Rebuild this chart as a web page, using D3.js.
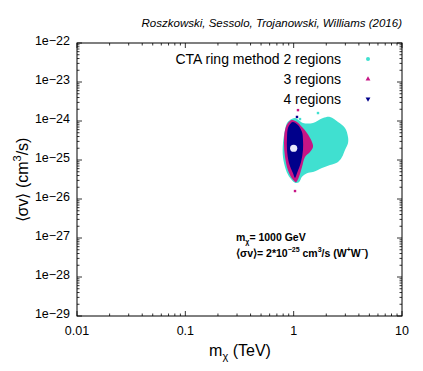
<!DOCTYPE html>
<html lang="en">
<head>
    <meta charset="UTF-8">
    <title>CTA ring method</title>
    <script src="https://cdnjs.cloudflare.com/ajax/libs/d3/7.8.5/d3.min.js"></script>
    <style>
        body { margin: 0; background: #fff; }
        text { font-family: "Liberation Sans", Arial, sans-serif; fill: #000; }
    </style>
</head>
<body>
<svg width="423" height="371"></svg>
<script>
    // axis ticks
    var xTicks = [0.01, 0.1, 1, 10];
    var xTickLabels = ["0.01", "0.1", "1", "10"];
    var yTicks = [1e-22, 1e-23, 1e-24, 1e-25, 1e-26, 1e-27, 1e-28, 1e-29];
    var yTickLabels = ["1e\u221222", "1e\u221223", "1e\u221224", "1e\u221225", "1e\u221226", "1e\u221227", "1e\u221228", "1e\u221229"];

    // legend
    var seriesNames = ["CTA ring method 2 regions", "3 regions", "4 regions"];

    // outlines of the point clouds, [m (TeV), <sigma v> (cm^3/s)]
    var cloud2 = [[0.925, 1.06e-24], [1.029, 1.19e-24], [1.219, 8.9e-25], [1.508, 8.9e-25], [1.866, 1.19e-24],
        [2.165, 1.27e-24], [2.567, 9.4e-25], [2.977, 6.6e-25], [3.174, 3.9e-25], [3.174, 2.73e-25],
        [2.977, 1.8e-25], [2.793, 1.19e-25], [2.567, 8.9e-26], [2.165, 7.4e-26], [1.826, 6.2e-26],
        [1.508, 4.9e-26], [1.327, 4.6e-26], [1.194, 3.7e-26], [1.120, 2.7e-26], [1.029, 2.6e-26],
        [0.925, 3.5e-26], [0.850, 5.5e-26], [0.797, 1.19e-25], [0.797, 2.73e-25], [0.832, 5.9e-25],
        [0.868, 8.9e-25]];
    var cloud3 = [[0.965, 1.06e-24], [1.073, 9.4e-25], [1.194, 7.0e-25], [1.327, 4.9e-25], [1.476, 2.9e-25],
        [1.508, 2.15e-25], [1.415, 1.6e-25], [1.272, 1.19e-25], [1.194, 6.6e-26], [1.120, 3.7e-26],
        [1.051, 2.7e-26], [0.986, 3.1e-26], [0.886, 5.5e-26], [0.832, 1.19e-25], [0.814, 2.73e-25],
        [0.832, 5.9e-25], [0.886, 8.9e-25]];
    var cloud4 = [[0.986, 9.4e-25], [1.096, 7.9e-25], [1.194, 5.2e-25], [1.219, 3.3e-25], [1.219, 1.8e-25],
        [1.169, 8.9e-26], [1.073, 4.6e-26], [1.029, 3.5e-26], [0.986, 4.6e-26], [0.905, 8.4e-26],
        [0.868, 1.8e-25], [0.868, 3.7e-25], [0.886, 6.6e-25], [0.945, 8.9e-25]];

    // a few stray points outside the clouds
    var stray2 = [[1.677, 1.6e-24], [1.144, 1.12e-24]];
    var stray3 = [[1.096, 1.9e-24], [1.029, 1.6e-26]];
    var stray4 = [[1.073, 1.27e-24]];

    // benchmark point
    var benchmark = [1, 2e-25];

    var colors = ["#40e0d0", "#c71585", "#00008b"];

    var svg = d3.select("svg");
    var mLeft = 77, mRight = 402, mTop = 43, mBottom = 316;

    var x = d3.scaleLog().domain([0.01, 10]).range([mLeft, mRight]);
    var y = d3.scaleLog().domain([1e-29, 1e-22]).range([mBottom, mTop]);

    // clouds
    var area = d3.line()
        .x(function (d) { return x(d[0]); })
        .y(function (d) { return y(d[1]); })
        .curve(d3.curveCatmullRomClosed);

    [cloud2, cloud3, cloud4].forEach(function (c, i) {
        svg.append("path").attr("d", area(c)).attr("fill", colors[i]);
    });

    [stray2, stray3, stray4].forEach(function (s, i) {
        svg.selectAll(".stray" + i).data(s).enter()
            .append("rect")
            .attr("x", function (d) { return x(d[0]) - 1.2; })
            .attr("y", function (d) { return y(d[1]) - 1.2; })
            .attr("width", 2.4).attr("height", 2.4)
            .attr("fill", colors[i]);
    });

    svg.append("circle")
        .attr("cx", x(benchmark[0]))
        .attr("cy", y(benchmark[1]))
        .attr("r", 3.6)
        .attr("fill", "#e8e8fb");

    // minor ticks
    var xMinor = [], yMinor = [];
    xTicks.slice(0, -1).forEach(function (t) {
        for (var k = 2; k < 10; k++) xMinor.push(t * k);
    });
    yTicks.slice(1).forEach(function (t) {
        for (var k = 2; k < 10; k++) yMinor.push(t * k);
    });

    var tk = svg.append("g").attr("stroke", "#000").attr("stroke-width", 0.8);
    xTicks.forEach(function (t) {
        tk.append("line").attr("x1", x(t)).attr("x2", x(t)).attr("y1", mBottom).attr("y2", mBottom - 5);
        tk.append("line").attr("x1", x(t)).attr("x2", x(t)).attr("y1", mTop).attr("y2", mTop + 5);
    });
    xMinor.forEach(function (t) {
        tk.append("line").attr("x1", x(t)).attr("x2", x(t)).attr("y1", mBottom).attr("y2", mBottom - 2.5);
        tk.append("line").attr("x1", x(t)).attr("x2", x(t)).attr("y1", mTop).attr("y2", mTop + 2.5);
    });
    yTicks.forEach(function (t) {
        tk.append("line").attr("x1", mLeft).attr("x2", mLeft + 5).attr("y1", y(t)).attr("y2", y(t));
        tk.append("line").attr("x1", mRight).attr("x2", mRight - 5).attr("y1", y(t)).attr("y2", y(t));
    });
    yMinor.forEach(function (t) {
        tk.append("line").attr("x1", mLeft).attr("x2", mLeft + 2.5).attr("y1", y(t)).attr("y2", y(t));
        tk.append("line").attr("x1", mRight).attr("x2", mRight - 2.5).attr("y1", y(t)).attr("y2", y(t));
    });

    // frame
    svg.append("rect")
        .attr("x", mLeft).attr("y", mTop)
        .attr("width", mRight - mLeft).attr("height", mBottom - mTop)
        .attr("fill", "none").attr("stroke", "#000").attr("stroke-width", 1);

    // tick labels
    svg.selectAll(".xl").data(xTicks).enter()
        .append("text")
        .attr("x", function (d) { return x(d); })
        .attr("y", mBottom + 19)
        .attr("text-anchor", "middle")
        .attr("font-size", 12.5)
        .text(function (d, i) { return xTickLabels[i]; });

    svg.selectAll(".yl").data(yTicks).enter()
        .append("text")
        .attr("x", mLeft - 7)
        .attr("y", function (d) { return y(d) + 2; })
        .attr("text-anchor", "end")
        .attr("font-size", 12.5)
        .text(function (d, i) { return yTickLabels[i]; });

    // axis titles
    var xt = svg.append("text")
        .attr("x", 240).attr("y", 356)
        .attr("text-anchor", "middle")
        .attr("font-size", 16);
    xt.append("tspan").text("m");
    xt.append("tspan").attr("font-size", 11).attr("dy", 4).text("\u03c7");
    xt.append("tspan").attr("dy", -4).text(" (TeV)");

    var yt = svg.append("text")
        .attr("transform", "translate(28,180) rotate(-90)")
        .attr("text-anchor", "middle")
        .attr("font-size", 16);
    yt.append("tspan").text("\u27e8\u03c3v\u27e9 (cm");
    yt.append("tspan").attr("font-size", 11).attr("dy", -7).text("3");
    yt.append("tspan").attr("dy", 7).text("/s)");

    // top credit
    svg.append("text")
        .attr("x", mRight).attr("y", 27)
        .attr("text-anchor", "end")
        .attr("font-size", 11.5)
        .attr("font-style", "italic")
        .text("Roszkowski, Sessolo, Trojanowski, Williams (2016)");

    // legend
    var lg = svg.append("g");
    seriesNames.forEach(function (n, i) {
        var ly = 64 + i * 20;
        lg.append("text")
            .attr("x", 341).attr("y", ly)
            .attr("text-anchor", "end")
            .attr("font-size", 14)
            .text(n);
    });
    var sx = 368;
    lg.append("circle").attr("cx", sx).attr("cy", 59).attr("r", 2).attr("fill", colors[0]);
    lg.append("path").attr("d", d3.symbol().type(d3.symbolTriangle).size(10)())
        .attr("transform", "translate(" + sx + ",79)").attr("fill", colors[1]);
    lg.append("path").attr("d", d3.symbol().type(d3.symbolTriangle).size(10)())
        .attr("transform", "translate(" + sx + ",99) rotate(180)").attr("fill", colors[2]);

    // annotation
    var a1 = svg.append("text")
        .attr("x", 236).attr("y", 241)
        .attr("font-size", 10.5).attr("font-weight", "bold");
    a1.append("tspan").text("m");
    a1.append("tspan").attr("font-size", 7).attr("dy", 3).text("\u03c7");
    a1.append("tspan").attr("dy", -3).text("= 1000 GeV");

    var a2 = svg.append("text")
        .attr("x", 236).attr("y", 257)
        .attr("font-size", 10.5).attr("font-weight", "bold");
    a2.append("tspan").text("\u27e8\u03c3v\u27e9= 2*10");
    a2.append("tspan").attr("font-size", 7).attr("dy", -5).text("\u221225");
    a2.append("tspan").attr("dy", 5).text(" cm");
    a2.append("tspan").attr("font-size", 7).attr("dy", -5).text("3");
    a2.append("tspan").attr("dy", 5).text("/s (W");
    a2.append("tspan").attr("font-size", 7).attr("dy", -5).text("+");
    a2.append("tspan").attr("dy", 5).text("W");
    a2.append("tspan").attr("font-size", 7).attr("dy", -5).text("\u2212");
    a2.append("tspan").attr("dy", 5).text(")");
</script>
</body>
</html>
